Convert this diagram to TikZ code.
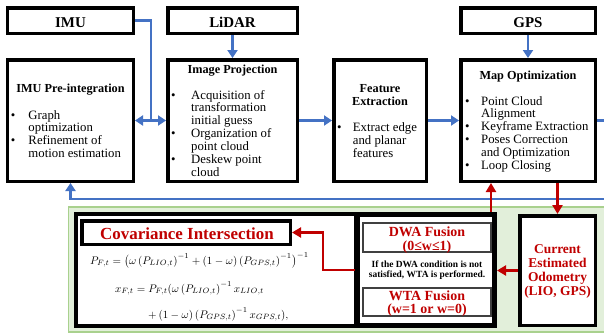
\documentclass[tikz,border=0pt]{standalone}
\usepackage{fontspec}
\setmainfont{Liberation Serif}
\usetikzlibrary{arrows.meta,calc}

\definecolor{flowblue}{HTML}{4472C4}
\definecolor{fusered}{HTML}{C00000}
\definecolor{panelgreen}{HTML}{A9D18E}
\definecolor{panelfill}{HTML}{E2EFDA}

\newcommand\headfont{\fontsize{15}{18}\selectfont\bfseries}
\newcommand\titlefont{\fontsize{12.3}{13}\selectfont\bfseries}
\newcommand\listfont{\fontsize{12.8}{12.9}\selectfont}

\tikzset{
  x=1bp, y=-1bp,
  box/.style={draw=black, line width=3.5bp, fill=white, inner sep=0pt},
  subbox/.style={draw=black!75, line width=1.6bp, fill=white, inner sep=0pt},
  lbl/.style={inner sep=0pt, anchor=base},
  listtext/.style={inner sep=0pt, anchor=base west, font=\listfont},
  blueline/.style={draw=flowblue, line width=2.2bp, line join=miter},
  bluearrow/.style={blueline, -{Triangle[length=8bp,width=10bp]}},
  bluedouble/.style={blueline, {Triangle[length=8bp,width=10bp]}-{Triangle[length=8bp,width=10bp]}},
  redarrow/.style={draw=fusered, line width=2.6bp, line join=miter, -{Triangle[length=9bp,width=10bp]}},
  redtext/.style={lbl, text=fusered, font=\fontsize{14}{13.3}\selectfont\bfseries},
}

\begin{document}
\begin{tikzpicture}
\useasboundingbox (0,0) rectangle (604,335);
\fill[white] (0,0) rectangle (604,335);
\begin{scope}
\clip (0,0) rectangle (604,335);

% ---------- sensors ----------
\node[box, minimum width=125.5bp, minimum height=25.5bp] (imu)   at (70.5,20.5) {};
\node[box, minimum width=129.5bp, minimum height=25.5bp] (lidar) at (232.5,20.5) {};
\node[box, minimum width=134.5bp, minimum height=25.5bp] (gps)   at (528,20.5) {};
\node[lbl, font=\headfont] (imu-t)   at (70.5,27.3)  {IMU};
\node[lbl, font=\headfont] (lidar-t) at (232.5,27.3) {LiDAR};
\node[lbl, font=\headfont] (gps-t)   at (528,27.5)   {GPS};

% ---------- processing modules ----------
\node[box, minimum width=125.5bp, minimum height=121.5bp] (preint)  at (70.5,120.5) {};
\node[box, minimum width=129.5bp, minimum height=121.5bp] (imgproj) at (232.5,120.5) {};
\node[box, minimum width=92.5bp,  minimum height=121.5bp] (featext) at (380,120.5) {};
\node[box, minimum width=134.5bp, minimum height=121.5bp] (mapopt)  at (528,120.5) {};

\node[lbl, font=\titlefont] (preint-t)  at (70.5,92.5) {IMU Pre-integration};
\node[listtext] (preint-l) at (10.8,119)
  {\begin{tabular}[t]{@{}p{17.5bp}@{}l@{}}•&Graph\\&optimization\\•&Refinement of\\&motion estimation\end{tabular}};

\node[lbl, font=\titlefont] (imgproj-t) at (232.5,73.3) {Image Projection};
\node[listtext] (imgproj-l) at (170.8,99)
  {\begin{tabular}[t]{@{}p{20.2bp}@{}l@{}}•&Acquisition of\\&transformation\\&initial guess\\•&Organization of\\&point cloud\\•&Deskew point\\&cloud\end{tabular}};

\node[lbl, font=\titlefont] (featext-t1) at (380,92.7) {Feature};
\node[lbl, font=\titlefont] (featext-t2) at (380,105)  {Extraction};
\node[listtext] (featext-l) at (336.8,131.7)
  {\begin{tabular}[t]{@{}p{15.9bp}@{}l@{}}•&Extract edge\\&and planar\\&features\end{tabular}};

\node[lbl, font=\titlefont] (mapopt-t) at (528,79) {Map Optimization};
\node[listtext] (mapopt-l) at (464.8,105)
  {\begin{tabular}[t]{@{}p{16.2bp}@{}l@{}}•&Point Cloud\\&Alignment\\•&Keyframe Extraction\\•&Poses Correction\\&and Optimization\\•&Loop Closing\end{tabular}};

% ---------- fusion panel ----------
\draw[draw=panelgreen, fill=panelfill, line width=1.8bp] (68.5,207) rectangle (640,332);

\node[box, line width=4bp, minimum width=280bp, minimum height=112bp] (formula) at (216,270) {};
\node[box, line width=5bp, minimum width=137bp, minimum height=111bp] (fusion) at (426,270) {};

\node[box, minimum width=208.5bp, minimum height=23.5bp] (ci) at (186,232.5) {};
\node[lbl, text=fusered, font=\fontsize{17}{20}\selectfont\bfseries] (ci-t) at (187,239.3) {Covariance Intersection};

\node[lbl, anchor=base west] (eq1) at (90,264)
  {\scalebox{1.1}{$P_{F,t}=\bigl(\omega\left(P_{LIO,t}\right)^{-1}+(1-\omega)\left(P_{GPS,t}\right)^{-1}\bigr)^{-1}$}};
\node[lbl, anchor=base west] (eq2) at (115,292)
  {\scalebox{1.1}{$x_{F,t}=P_{F,t}(\omega\left(P_{LIO,t}\right)^{-1}x_{LIO,t}$}};
\node[lbl, anchor=base west] (eq3) at (148,318)
  {\scalebox{1.1}{$+\,(1-\omega)\left(P_{GPS,t}\right)^{-1}x_{GPS,t}),$}};

\node[subbox, minimum width=128.4bp, minimum height=29.4bp] (dwa) at (427,237.5) {};
\node[redtext] (dwa-t) at (427,236.7)
  {\begin{tabular}[t]{@{}c@{}}DWA Fusion\\(0≤w≤1)\end{tabular}};
\node[lbl, font=\fontsize{9.5}{10}\selectfont\bfseries] (cond-t) at (427,267.5)
  {\begin{tabular}[t]{@{}c@{}}If the DWA condition is not\\satisfied, WTA is performed.\end{tabular}};
\node[subbox, minimum width=128.4bp, minimum height=28.4bp] (wta) at (427,302) {};
\node[redtext] (wta-t) at (427,300)
  {\begin{tabular}[t]{@{}c@{}}WTA Fusion\\(w=1 or w=0)\end{tabular}};

\node[box, minimum width=75.5bp, minimum height=109.5bp] (odom) at (557.5,270.5) {};
\node[lbl, text=fusered, font=\fontsize{13.5}{14.2}\selectfont\bfseries] (odom-t) at (557.5,253.3)
  {\begin{tabular}[t]{@{}c@{}}Current\\Estimated\\Odometry\\(LIO, GPS)\end{tabular}};

% ---------- blue data flow ----------
\coordinate (jn) at (151,120.5);
\coordinate (fbR) at (615,199);
\coordinate (fbL) at (70.5,199);
\draw[blueline] (imu.east) -| (jn);
\draw[bluedouble] (preint) -- (imgproj);
\draw[bluearrow] (lidar) -- (imgproj);
\draw[bluearrow] (gps) -- (mapopt);
\draw[bluearrow] (imgproj) -- (featext);
\draw[bluearrow] (featext) -- (mapopt);
\draw[bluearrow] (mapopt.east) -| (fbR) -- (fbL) -- (preint.south);

% ---------- red fusion flow ----------
\coordinate (upx) at (491,0);
\draw[redarrow] (fusion.north -| upx) -- (mapopt.south -| upx);
\draw[redarrow] (mapopt.south -| odom.north) -- (odom.north);
\draw[redarrow] (odom.west) -- (odom.west -| fusion.east);
\draw[redarrow] (fusion.west) -- ++(-32,0) |- (ci.east);
\end{scope}
\end{tikzpicture}
\end{document}
